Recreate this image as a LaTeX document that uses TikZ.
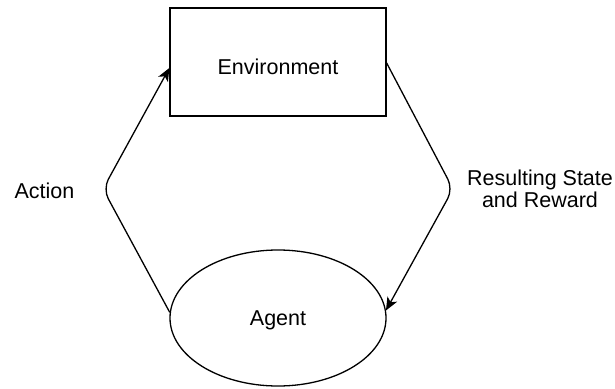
\documentclass[tikz,border=0pt]{standalone}
\usepackage{fontspec}
\setmainfont{Liberation Sans}
\usetikzlibrary{shapes.geometric,arrows.meta}
\begin{document}
\begin{tikzpicture}[x=1pt,y=-1pt,
  every node/.style={font=\fontsize{21.5}{22}\selectfont, inner sep=0pt},
  box/.style={draw, line width=1.3pt, minimum width=216pt, minimum height=108pt, text height=24pt, text depth=0pt},
  oval/.style={draw, ellipse, line width=1.3pt, minimum width=216pt, minimum height=136pt, text height=15pt, text depth=1pt},
  conn/.style={line width=1.3pt, rounded corners=11pt, -{Stealth[length=13pt,width=11pt,inset=3.5pt]}},
  lbl/.style={align=center}]
\useasboundingbox[fill=white] (0,0) rectangle (615,388);
\node[box] (env) at (278,62) {Environment};
\node[oval] (agent) at (278,318) {Agent};
\coordinate (lc) at (103,189);
\coordinate (rc) at (453,189);
\draw[conn] (agent.177) -- (lc) -- ([yshift=-6pt]env.west);
\draw[conn] ([yshift=-1pt]env.east) -- (rc) -- (agent.4);
\node[lbl] (act) at (44.5,191) {Action};
\node[lbl] (res) at (540,188.5) {Resulting State\\and Reward};
\end{tikzpicture}
\end{document}
